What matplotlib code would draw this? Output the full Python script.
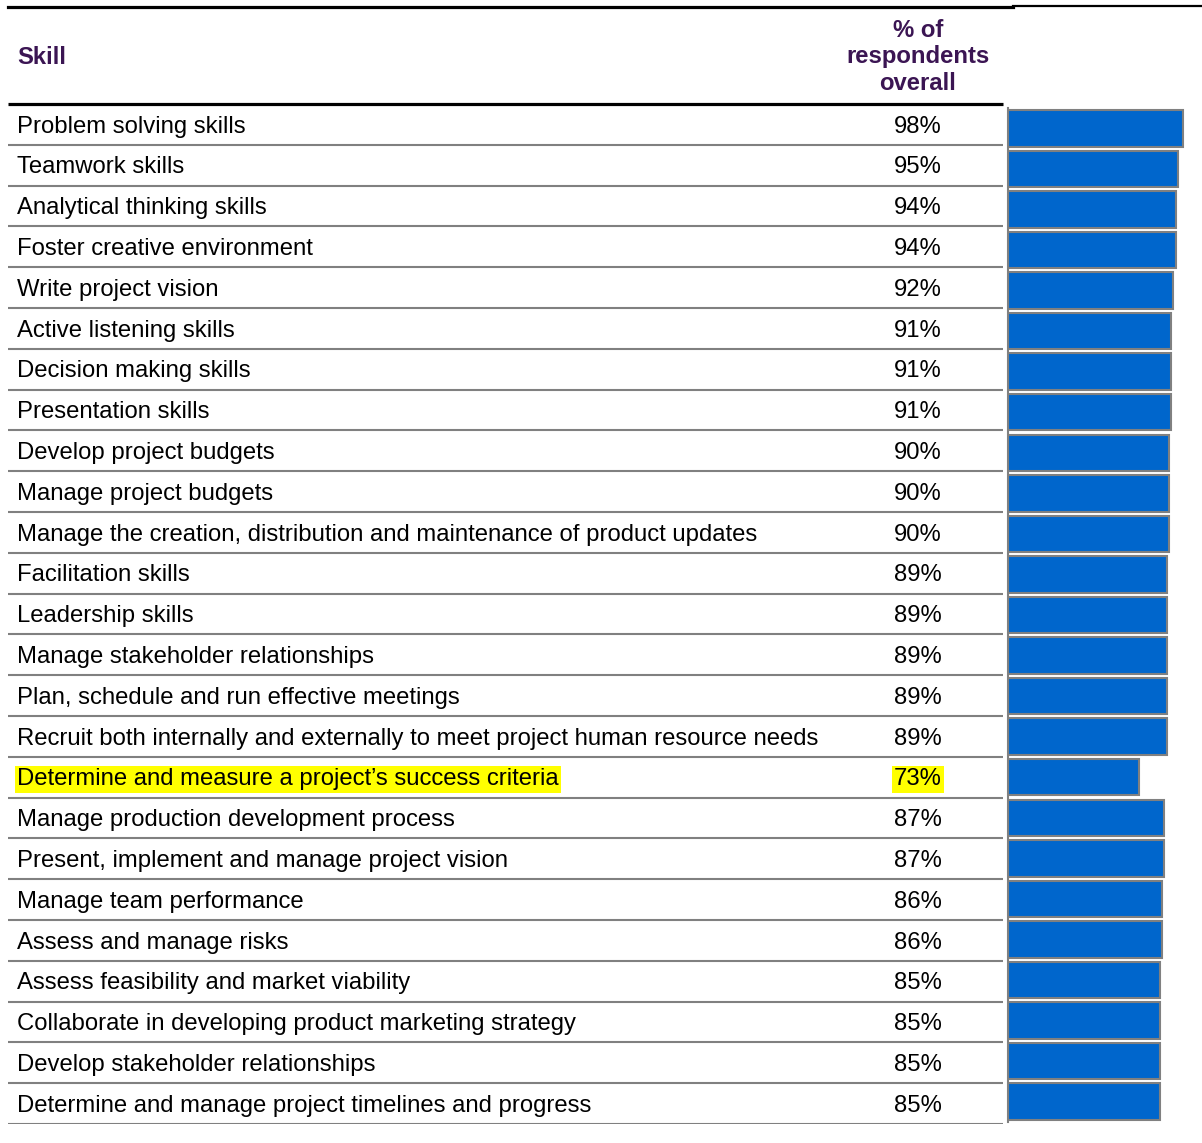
# Survey table: skills with % of respondents and a bar column
import matplotlib.pyplot as plt
from matplotlib.lines import Line2D

skills = [
    "Problem solving skills",
    "Teamwork skills",
    "Analytical thinking skills",
    "Foster creative environment",
    "Write project vision",
    "Active listening skills",
    "Decision making skills",
    "Presentation skills",
    "Develop project budgets",
    "Manage project budgets",
    "Manage the creation, distribution and maintenance of product updates",
    "Facilitation skills",
    "Leadership skills",
    "Manage stakeholder relationships",
    "Plan, schedule and run effective meetings",
    "Recruit both internally and externally to meet project human resource needs",
    "Determine and measure a project\u2019s success criteria",
    "Manage production development process",
    "Present, implement and manage project vision",
    "Manage team performance",
    "Assess and manage risks",
    "Assess feasibility and market viability",
    "Collaborate in developing product marketing strategy",
    "Develop stakeholder relationships",
    "Determine and manage project timelines and progress",
]
pct = [98, 95, 94, 94, 92, 91, 91, 91, 90, 90, 90, 89, 89, 89, 89, 89,
       73, 87, 87, 86, 86, 85, 85, 85, 85]
highlight = [16]

W, H = 1202, 1143
plt.rcParams['font.family'] = ['Liberation Sans', 'DejaVu Sans']
fs = 17.2
purple = '#3b1553'
gray = '#808080'

fig = plt.figure(figsize=(W / 100, H / 100), dpi=100)
n = len(skills)

# table part
ax_t = fig.add_axes([0, 19 / H, 1003 / W, 1020 / H])
ax_t.set_xlim(0, 1)
ax_t.set_ylim(n, 0)
ax_t.axis('off')
x0 = 8 / 1003
for i, (s, v) in enumerate(zip(skills, pct)):
    box = dict(facecolor='yellow', edgecolor='none', pad=1.5) if i in highlight else None
    ax_t.text(17 / 1003, i + 0.7, s, fontsize=fs, va='baseline', ha='left', bbox=box)
    ax_t.text(918 / 1003, i + 0.7, f"{v}%", fontsize=fs, va='baseline', ha='center', bbox=box)
ax_t.hlines(range(1, n + 1), x0, 1, colors=gray, lw=1.5)
ax_t.hlines([0], x0, 1, colors='black', lw=2.3, clip_on=False)

# header
fig.text(17 / W, 1 - 57 / H, "Skill", fontsize=fs, fontweight='bold',
         color=purple, va='center', ha='left')
fig.text(918 / W, 1 - 57 / H, "% of\nrespondents\noverall", fontsize=fs,
         fontweight='bold', color=purple, va='center', ha='center',
         linespacing=1.22)
fig.add_artist(Line2D([8 / W, 1013 / W], [1 - 6.5 / H] * 2, color='black', lw=2.3))
fig.add_artist(Line2D([1013 / W, 1], [1 - 6 / H] * 2, color='black', lw=1.6))

# bar part
ax_b = fig.add_axes([1008 / W, 21 / H, 194 / W, 1014 / H])
ax_b.barh(range(n), pct, height=0.9, color='#0066cc', edgecolor=gray, lw=1.5)
ax_b.set_xlim(0, 194 / 1.79)
ax_b.set_ylim(n - 0.5, -0.5)
for sp in ['top', 'right', 'bottom']:
    ax_b.spines[sp].set_visible(False)
ax_b.spines['left'].set_color(gray)
ax_b.spines['left'].set_linewidth(1.5)
ax_b.set_xticks([])
ax_b.set_yticks([])
ax_b.patch.set_alpha(0)

fig.savefig('out.png', dpi=100)
